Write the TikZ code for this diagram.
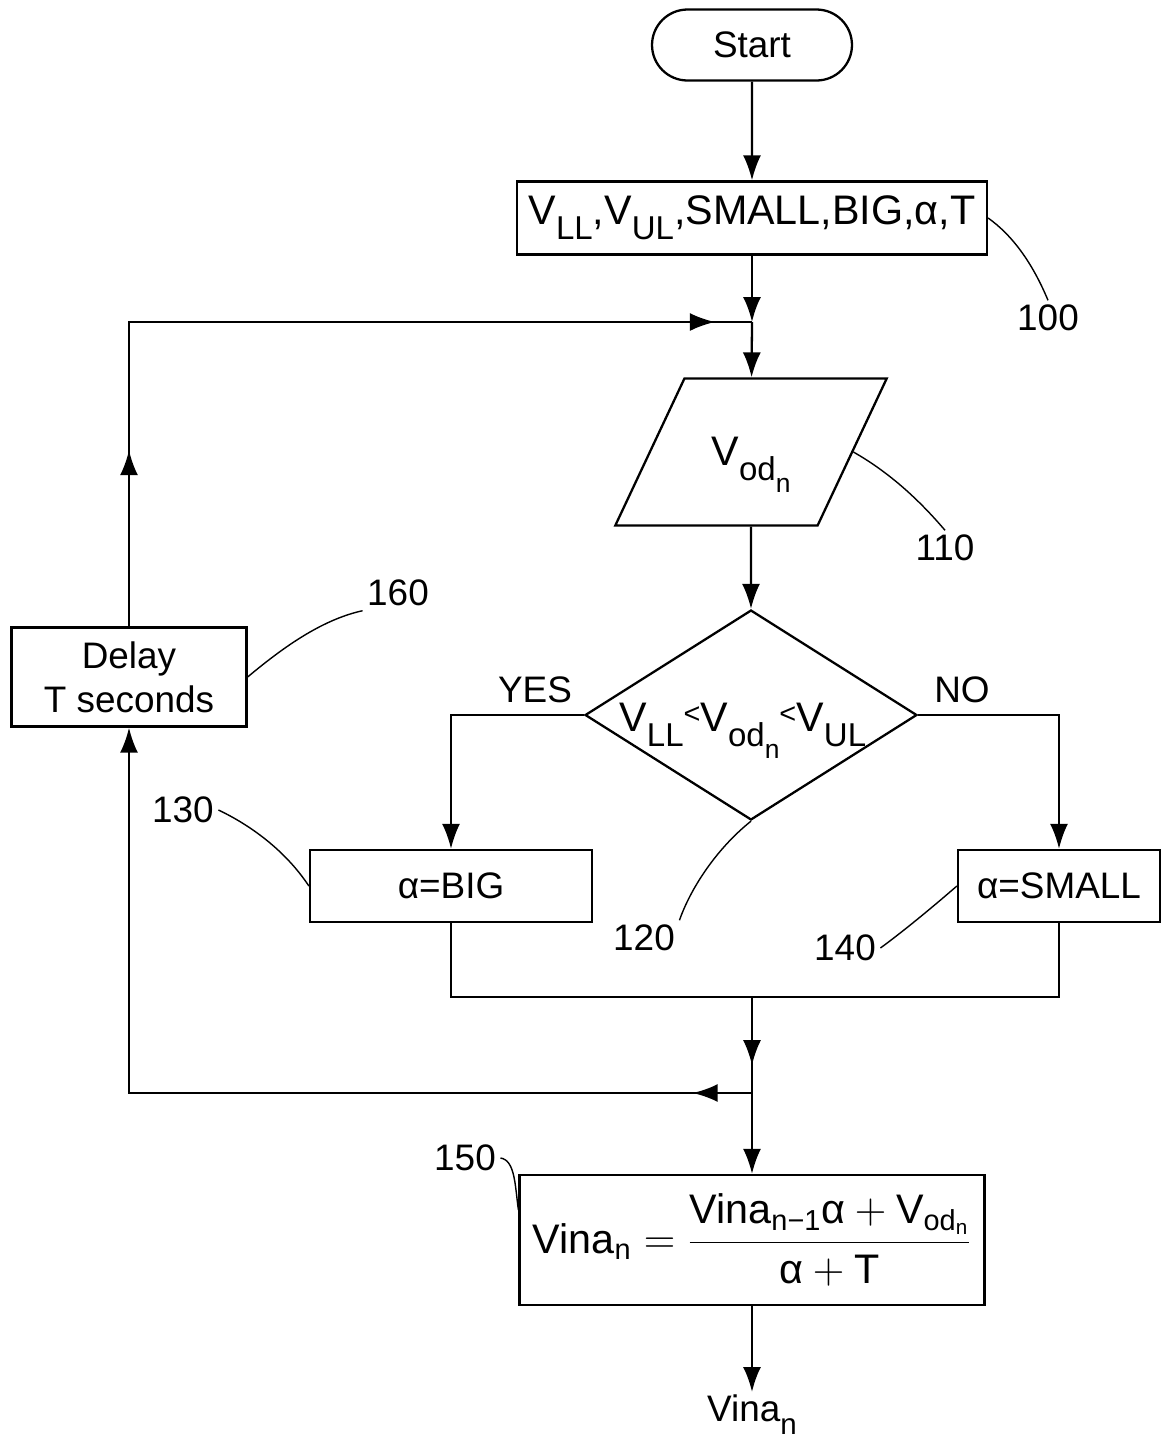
\documentclass[tikz,border=0pt]{standalone}
\usepackage{amsmath}
\usepackage{graphicx}
\usepackage{fontspec}
\setmainfont{Liberation Sans}
\usetikzlibrary{arrows.meta, shapes.geometric, shapes.misc, decorations.markings}

\newcommand{\lo}[1]{\raisebox{-0.36em}{\scalebox{0.8}{#1}}}
\newcommand{\lessmark}{\raisebox{0.2em}{\scalebox{0.7}{<}}}

\begin{document}
\begin{tikzpicture}[x=0.02cm, y=-0.02cm, line width=1.3pt,
  every node/.style={font=\fontsize{21}{25}\selectfont},
  big text/.style={font=\fontsize{23.5}{28}\selectfont},
  box/.style={draw, rectangle, inner sep=0pt},
  arr/.style={-{Latex[length=5mm,width=3.6mm]}},
  midarrow/.style={postaction={decorate, decoration={markings,
    mark=at position #1 with {\arrow{Latex[length=5mm,width=3.6mm]}}}}},
  lead/.style={line width=0.8pt},
  tag/.style={inner sep=2pt}]

\useasboundingbox (0,0) rectangle (1162,1445);

% main column
\node[draw, rounded rectangle, minimum width=4cm, minimum height=1.42cm,
  inner sep=0pt] (start) at (752,45) {Start};
\node[box, big text, minimum width=9.4cm, minimum height=1.46cm] (init) at (752,218)
  {V\lo{LL},V\lo{UL},SMALL,BIG,α,T};
\coordinate (join1) at (752,322);
\node[draw, big text, trapezium, trapezium left angle=63, trapezium right angle=117,
  trapezium stretches=true, minimum width=5.44cm, minimum height=2.94cm,
  inner sep=0pt] (input) at (751,452) {\rule{0pt}{1.3em}V\lo{od\lo{n}}};
\node[draw, big text, diamond, minimum width=6.64cm, minimum height=4.2cm,
  shape aspect=1.58, inner sep=0pt, text height=0.7em, text depth=0.2em] (test)
  at (751,715)
  {\raisebox{-0.3em}{V\lo{LL}\lessmark V\lo{od\lo{n}}\lessmark V\lo{UL}}\kern0.4em};

% branches
\node[box, minimum width=5.64cm, minimum height=1.44cm] (big) at (451,886) {α=BIG};
\node[box, minimum width=4.04cm, minimum height=1.44cm] (small) at (1059,886) {α=SMALL};
\node (yes) at (535,690) {YES};
\node (no) at (962,690) {NO};
\coordinate (join2) at (752,997);
\coordinate (join3) at (752,1093);

% update and delay
\node[box, big text, minimum width=9.3cm, minimum height=2.6cm] (formula) at (752,1240)
  {$\displaystyle \text{Vina}_{\text{n}} =
   \frac{\text{Vina}_{\text{n−1}}\text{α} + \text{V}_{\text{od}_{\text{n}}}}
        {\text{α} + \text{T}}$};
\node[anchor=north, inner sep=1pt] (out) at (752,1392) {Vina\lo{n}};
\node[box, minimum width=4.7cm, minimum height=1.98cm, align=center] (delay)
  at (129,677) {Delay\\T seconds};

% connectors
\draw[arr] (start) -- (init);
\draw[arr] (init) -- (join1);
\draw[arr] (join1) -- (input);
\draw[arr] (input) -- (test);
\draw[arr] (test.west) -| (big);
\draw[arr] (test.east) -| (small);
\draw (big.south) |- (join2) -| (small.south);
\draw[midarrow=0.71] (join2) -- (join3);
\draw[arr] (join3) -- (formula);
\draw[arr] (formula) -- (out);
\draw[arr, midarrow=0.06] (join3) -| (delay.south);
\draw[midarrow=0.19, midarrow=0.96] (delay.north) |- (join1);

% reference numerals
\node[tag] (n100) at (1048,318) {100};
\node[tag] (n110) at (945,548) {110};
\node[tag] (n120) at (644,938) {120};
\node[tag] (n130) at (183,810) {130};
\node[tag] (n140) at (845,948) {140};
\node[tag] (n150) at (465,1158) {150};
\node[tag] (n160) at (398,593) {160};
\draw[lead] (init.east) .. controls (1012,235) and (1032,262) .. (n100.north);
\draw[lead] (input.east) .. controls (885,470) and (915,495) .. (n110.north);
\draw[lead] (test.south) .. controls (715,850) and (690,890) .. (n120.north east);
\draw[lead] (n130.east) .. controls (250,825) and (285,850) .. (big.west);
\draw[lead] (n140.east) .. controls (905,930) and (935,905) .. (small.west);
\draw[lead] (n150.east) .. controls (515,1160) and (515,1185) .. ([yshift=0.6cm]formula.west);
\draw[lead] (delay.east) .. controls (280,650) and (320,620) .. (n160.south west);

\end{tikzpicture}
\end{document}
